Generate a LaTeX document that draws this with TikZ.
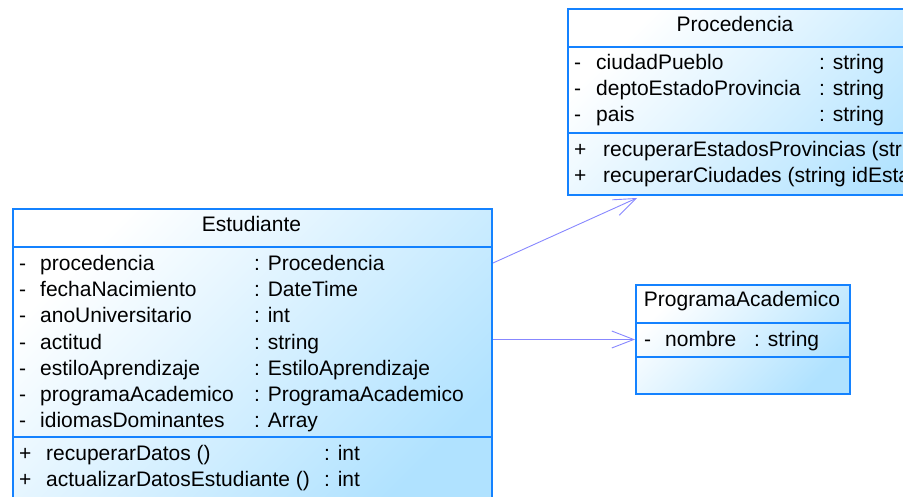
\documentclass[tikz,border=0pt]{standalone}
\usepackage{fontspec}
\setmainfont{Liberation Sans}
\usepackage{tikz}
\usetikzlibrary{arrows.meta,positioning,calc}

\definecolor{umlborder}{RGB}{20,130,255}
\definecolor{umlfill}{RGB}{176,226,255}
\definecolor{umllink}{RGB}{135,135,255}

% one row of a class compartment: marker, name, type
\newcommand{\umlrow}[5]{\makebox[#1][l]{#2}\makebox[#3][l]{#4}#5}

\begin{document}
\begin{tikzpicture}[
    x=1pt, y=-1pt,
    umlclass/.style={
        draw=umlborder,
        line width=2pt,
        top color=white,
        bottom color=umlfill,
        shading angle=45,
        inner sep=0pt,
        anchor=north west
    },
    divider/.style={draw=umlborder, line width=2pt},
    member/.style={anchor=base west, inner sep=0pt, font=\fontsize{21}{25}\selectfont},
    classname/.style={anchor=base, inner sep=0pt, font=\fontsize{21}{25}\selectfont},
    link/.style={-{Straight Barb[length=22pt,width=17pt]}, draw=umllink, line width=0.9pt}
]
\clip (0,0) rectangle (903,497);

% Estudiante
\node[umlclass, minimum width=479pt, minimum height=302pt] (est) at (12,208) {};
\draw[divider] ($(est.north west)+(0,39)$) -- ($(est.north east)+(0,39)$);
\draw[divider] ($(est.north west)+(0,229)$) -- ($(est.north east)+(0,229)$);
\node[classname] (est-name) at (251.5,232) {Estudiante};
\node[member] (est-a1) at (19,271) {\umlrow{21pt}{-}{214pt}{procedencia}{: Procedencia}};
\node[member] (est-a2) at (19,297) {\umlrow{21pt}{-}{214pt}{fechaNacimiento}{: DateTime}};
\node[member] (est-a3) at (19,323) {\umlrow{21pt}{-}{214pt}{anoUniversitario}{: int}};
\node[member] (est-a4) at (19,349) {\umlrow{21pt}{-}{214pt}{actitud}{: string}};
\node[member] (est-a5) at (19,375) {\umlrow{21pt}{-}{214pt}{estiloAprendizaje}{: EstiloAprendizaje}};
\node[member] (est-a6) at (19,401) {\umlrow{21pt}{-}{214pt}{programaAcademico}{: ProgramaAcademico}};
\node[member] (est-a7) at (19,427) {\umlrow{21pt}{-}{214pt}{idiomasDominantes}{: Array}};
\node[member] (est-m1) at (19,460) {\umlrow{27pt}{+}{278pt}{recuperarDatos ()}{: int}};
\node[member] (est-m2) at (19,486) {\umlrow{27pt}{+}{278pt}{actualizarDatosEstudiante ()}{: int}};

% Procedencia
\node[umlclass, minimum width=400pt, minimum height=186pt] (pro) at (567,8) {};
\draw[divider] ($(pro.north west)+(0,39)$) -- ($(pro.north east)+(0,39)$);
\draw[divider] ($(pro.north west)+(0,125)$) -- ($(pro.north east)+(0,125)$);
\node[classname] (pro-name) at (735,32) {Procedencia};
\node[member] (pro-a1) at (574,70) {\umlrow{22pt}{-}{223pt}{ciudadPueblo}{: string}};
\node[member] (pro-a2) at (574,96) {\umlrow{22pt}{-}{223pt}{deptoEstadoProvincia}{: string}};
\node[member] (pro-a3) at (574,122) {\umlrow{22pt}{-}{223pt}{pais}{: string}};
\node[member] (pro-m1) at (574,157) {\umlrow{29pt}{+}{0pt}{recuperarEstadosProvincias (strin}{}};
\node[member] (pro-m2) at (574,183) {\umlrow{29pt}{+}{0pt}{recuperarCiudades (string idEsta}{}};

% ProgramaAcademico
\node[umlclass, minimum width=214pt, minimum height=109pt] (prog) at (635,284) {};
\draw[divider] ($(prog.north west)+(0,39)$) -- ($(prog.north east)+(0,39)$);
\draw[divider] ($(prog.north west)+(0,73)$) -- ($(prog.north east)+(0,73)$);
\node[classname] (prog-name) at (742,307) {ProgramaAcademico};
\node[member] (prog-a1) at (644,346) {\umlrow{21pt}{-}{89pt}{nombre}{: string}};

% associations
\coordinate (est-out) at ($(est.north east)+(0,55)$);
\coordinate (pro-in) at ($(pro.south west)+(70,2)$);
\draw[link] (est-out) -- (pro-in);
\draw[link] (est.east |- prog.west) -- (prog.west);
\end{tikzpicture}
\end{document}
